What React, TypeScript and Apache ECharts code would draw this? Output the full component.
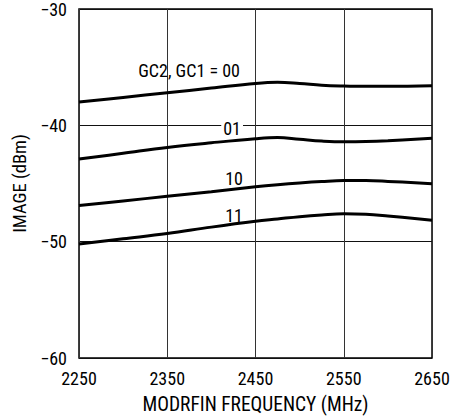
import React, { useEffect, useRef } from "react";
import * as echarts from "echarts";

const freqs = [2250, 2300, 2350, 2400, 2450, 2475, 2500, 2525, 2550, 2575, 2600, 2650];
const gc00 = [-38.0, -37.6, -37.2, -36.8, -36.4, -36.3, -36.4, -36.55, -36.62, -36.65, -36.65, -36.6];
const gc01 = [-42.9, -42.4, -41.9, -41.5, -41.15, -41.05, -41.2, -41.35, -41.42, -41.4, -41.33, -41.12];
const gc10 = [-46.9, -46.5, -46.1, -45.7, -45.28, -45.1, -44.95, -44.83, -44.75, -44.75, -44.82, -45.02];
const gc11 = [-50.2, -49.75, -49.3, -48.75, -48.25, -48.05, -47.85, -47.7, -47.6, -47.65, -47.8, -48.15];

const seriesNames = ["GC2, GC1 = 00", "01", "10", "11"];
const seriesValues = [gc00, gc01, gc10, gc11];

const xTitle = "MODRFIN FREQUENCY (MHz)";
const yTitle = "IMAGE (dBm)";

const FONT = "'Liberation Sans Narrow', 'Roboto Condensed', 'Liberation Sans', Arial, sans-serif";

export default function App() {
  const ref = useRef<HTMLDivElement>(null);
  useEffect(() => {
    if (!ref.current) return;
    const chart = echarts.init(ref.current, null, { renderer: "svg" });
    const fmtY = (v: number) => (v < 0 ? "\u2212" + Math.abs(v) : String(v));
    const fmtX = (v: number) => String(v);
    const labelPos = [
      { x: 240, y: 70 },
      { x: 243, y: 128 },
      { x: 243, y: 178 },
      { x: 243, y: 215 },
    ];
    chart.setOption({
      animation: false,
      backgroundColor: "#fff",
      textStyle: { fontFamily: FONT },
      grid: {
        left: 79,
        right: 23,
        top: 8.5,
        bottom: 58,
        show: true,
        borderColor: "#000",
        borderWidth: 1.5,
        backgroundColor: "transparent",
      },
      xAxis: {
        type: "value",
        min: 2250,
        max: 2650,
        interval: 100,
        name: xTitle,
        nameLocation: "middle",
        nameGap: 36,
        nameTextStyle: { fontSize: 19.5, color: "#000", fontFamily: FONT },
        axisLine: { show: false },
        axisTick: { show: false },
        axisLabel: { fontSize: 18, color: "#000", margin: 11, formatter: fmtX, fontFamily: FONT },
        splitLine: { show: true, lineStyle: { color: "#333", width: 1 } },
      },
      yAxis: {
        type: "value",
        min: -60,
        max: -30,
        interval: 10,
        name: yTitle,
        nameLocation: "middle",
        nameGap: 50,
        nameTextStyle: { fontSize: 18.5, color: "#000", fontFamily: FONT },
        axisLine: { show: false },
        axisTick: { show: false },
        axisLabel: { fontSize: 18, color: "#000", margin: 12, formatter: fmtY, fontFamily: FONT },
        splitLine: { show: true, lineStyle: { color: "#111", width: 1 } },
      },
      series: seriesValues.map((vals, i) => ({
        type: "line",
        name: seriesNames[i],
        data: freqs.map((f, j) => [f, vals[j]]),
        smooth: 0.4,
        showSymbol: false,
        symbol: "none",
        lineStyle: { color: "#000", width: 3 },
        z: 3,
      })),
      graphic: seriesNames.map((n, i) => ({
        type: "text",
        x: labelPos[i].x,
        y: labelPos[i].y,
        z: 10,
        style: {
          text: n,
          fontSize: 18,
          fontFamily: FONT,
          fill: "#000",
          align: "right",
          verticalAlign: "middle",
          backgroundColor: i === 1 ? "#fff" : undefined,
          padding: i === 1 ? [0, 2] : 0,
        },
      })),
    });
    return () => chart.dispose();
  }, []);
  return (
    <div
      ref={ref}
      style={{ width: 455, height: 419, position: "absolute", left: 0, top: 0 }}
    />
  );
}
